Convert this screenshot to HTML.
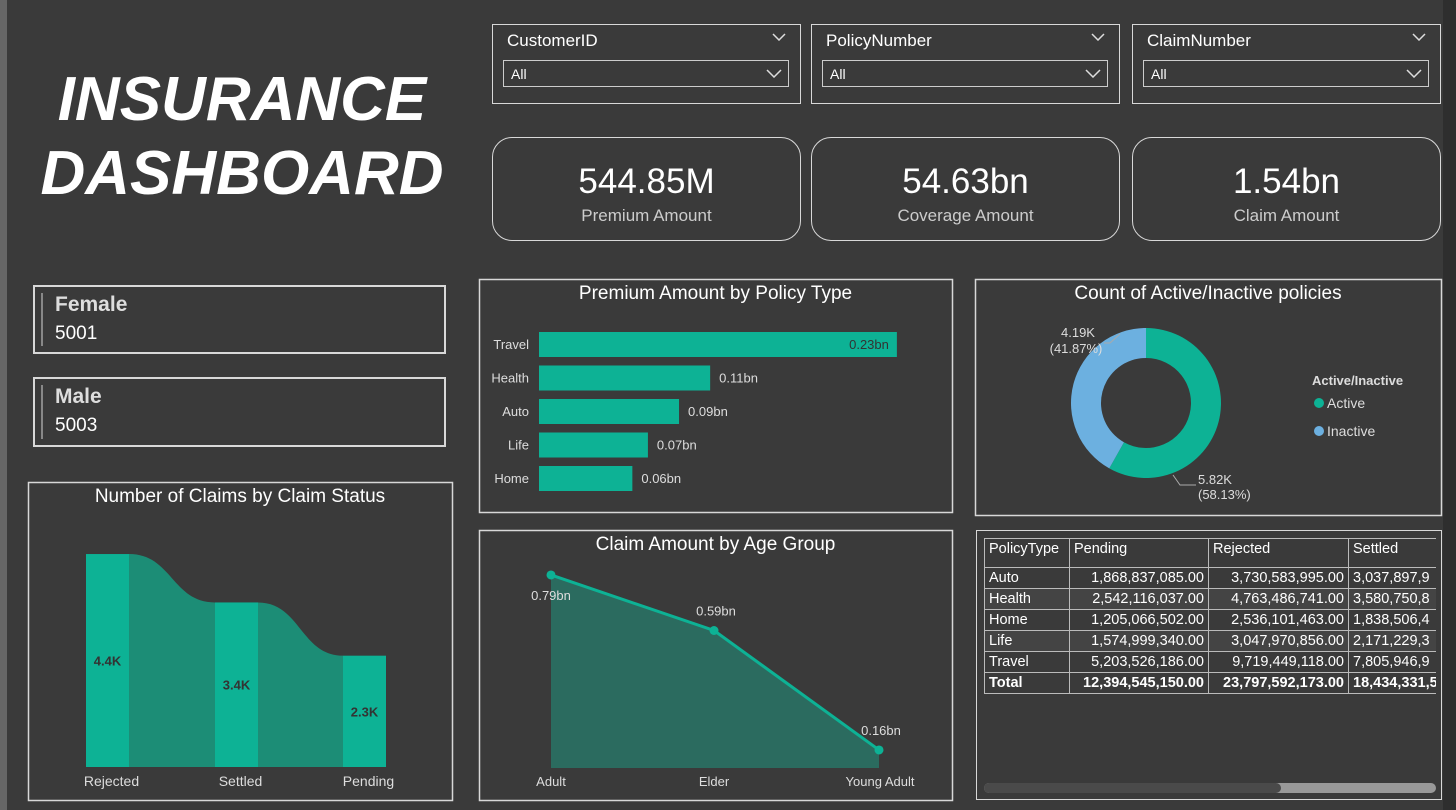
<!DOCTYPE html>
<html><head><meta charset="utf-8"><style>
body{margin:0;width:1456px;height:810px;background:#3a3a3a;font-family:"Liberation Sans",sans-serif;color:#fff;position:relative;overflow:hidden}
.a{position:absolute;box-sizing:border-box}
.box{border:1.5px solid #d8d8d8}
.slicer .lbl{position:absolute;left:14px;top:6px;font-size:17px}
.slicer .chev{position:absolute;right:14px;top:8px}
.slicer .dd{position:absolute;left:10px;right:11px;top:35px;height:27px;border:1px solid #ccc;font-size:14px;padding:5px 7px;box-sizing:border-box}
.slicer .dd svg{position:absolute;right:6px;top:8px}
.kpi{border:1.5px solid #d8d8d8;border-radius:20px;text-align:center}
.kpi .v{font-size:35px;margin-top:24px}
.kpi .l{font-size:17px;color:#ccc;margin-top:4px}
.gbox{border:2px solid #d8d8d8}
.gbox .bar{position:absolute;left:6px;top:6px;bottom:6px;width:2px;background:#888}
.gbox .t{position:absolute;left:20px;top:6px;font-size:21px;font-weight:bold;color:#ddd}
.gbox .n{position:absolute;left:20px;top:36px;font-size:19px}
table{border-collapse:collapse;font-size:14.5px;table-layout:fixed}
td{border:1px solid #bbb;padding:0 4px;height:20px;white-space:nowrap;overflow:hidden}
</style></head><body>
<div class="a" style="left:0;top:0;width:7px;height:810px;background:#666"></div>
<div class="a" style="left:1443px;top:0;width:13px;height:810px;background:#2e2e2e"></div>
<div class="a" style="left:22px;top:63px;width:440px;text-align:center;font-size:62px;font-weight:bold;font-style:italic;line-height:74px">INSURANCE<br>DASHBOARD</div>

<div class="a box slicer" style="left:492px;top:24px;width:309px;height:80px"><div class="lbl">CustomerID</div><svg class="chev" width="14" height="8"><polyline points="1,1 7,7 13,1" fill="none" stroke="#ddd" stroke-width="1.5"/></svg><div class="dd">All<svg width="16" height="9"><polyline points="1,1 8,8 15,1" fill="none" stroke="#ddd" stroke-width="1.5"/></svg></div></div>
<div class="a box slicer" style="left:811px;top:24px;width:309px;height:80px"><div class="lbl">PolicyNumber</div><svg class="chev" width="14" height="8"><polyline points="1,1 7,7 13,1" fill="none" stroke="#ddd" stroke-width="1.5"/></svg><div class="dd">All<svg width="16" height="9"><polyline points="1,1 8,8 15,1" fill="none" stroke="#ddd" stroke-width="1.5"/></svg></div></div>
<div class="a box slicer" style="left:1132px;top:24px;width:309px;height:80px"><div class="lbl">ClaimNumber</div><svg class="chev" width="14" height="8"><polyline points="1,1 7,7 13,1" fill="none" stroke="#ddd" stroke-width="1.5"/></svg><div class="dd">All<svg width="16" height="9"><polyline points="1,1 8,8 15,1" fill="none" stroke="#ddd" stroke-width="1.5"/></svg></div></div>

<div class="a kpi" style="left:492px;top:137px;width:309px;height:104px"><div class="v">544.85M</div><div class="l">Premium Amount</div></div>
<div class="a kpi" style="left:811px;top:137px;width:309px;height:104px"><div class="v">54.63bn</div><div class="l">Coverage Amount</div></div>
<div class="a kpi" style="left:1132px;top:137px;width:309px;height:104px"><div class="v">1.54bn</div><div class="l">Claim Amount</div></div>

<div class="a gbox" style="left:33px;top:285px;width:413px;height:69px"><div class="bar"></div><div class="t">Female</div><div class="n">5001</div></div>
<div class="a gbox" style="left:33px;top:377px;width:413px;height:70px"><div class="bar"></div><div class="t">Male</div><div class="n">5003</div></div>

<svg class="a" id="svg" style="left:0;top:0" width="1456" height="810"></svg>

<div class="a" style="left:976px;top:530px;width:466px;height:270px;border:1.5px solid #d8d8d8;overflow:hidden">
<table class="a" style="left:7px;top:7px;width:480px">
<colgroup><col style="width:85px"><col style="width:139px"><col style="width:140px"><col style="width:116px"></colgroup>
<tr style="height:29px"><td style="vertical-align:top;padding-top:2px">PolicyType</td><td style="vertical-align:top;padding-top:2px">Pending</td><td style="vertical-align:top;padding-top:2px">Rejected</td><td style="vertical-align:top;padding-top:2px">Settled</td></tr>
<tr><td>Auto</td><td align="right">1,868,837,085.00</td><td align="right">3,730,583,995.00</td><td>3,037,897,9</td></tr>
<tr style="background:#444"><td>Health</td><td align="right">2,542,116,037.00</td><td align="right">4,763,486,741.00</td><td>3,580,750,8</td></tr>
<tr><td>Home</td><td align="right">1,205,066,502.00</td><td align="right">2,536,101,463.00</td><td>1,838,506,4</td></tr>
<tr style="background:#444"><td>Life</td><td align="right">1,574,999,340.00</td><td align="right">3,047,970,856.00</td><td>2,171,229,3</td></tr>
<tr><td>Travel</td><td align="right">5,203,526,186.00</td><td align="right">9,719,449,118.00</td><td>7,805,946,9</td></tr>
<tr style="font-weight:bold"><td>Total</td><td align="right">12,394,545,150.00</td><td align="right">23,797,592,173.00</td><td>18,434,331,5</td></tr>
</table>
<div class="a" style="left:459px;top:0;width:10px;height:268px;background:#3a3a3a"></div>
<div class="a" style="left:7px;top:252px;width:452px;height:10px;border-radius:5px;background:#999"><div style="width:297px;height:10px;border-radius:5px;background:#4a4a4a"></div></div>
</div>

<script>
const funnelCats=["Rejected","Settled","Pending"];
const funnelVals=[4.4,3.4,2.3];
const barCats=["Travel","Health","Auto","Life","Home"];
const barVals=[0.23,0.11,0.09,0.07,0.06];
const donutCats=["Active","Inactive"];
const donutVals=[5.82,4.19];
const donutPct=[58.13,41.87];
const ageCats=["Adult","Elder","Young Adult"];
const ageVals=[0.79,0.59,0.16];

const NS="http://www.w3.org/2000/svg",svg=document.getElementById('svg');
function mk(t,a,p){const e=document.createElementNS(NS,t);for(const k in a)e.setAttribute(k,a[k]);(p||svg).appendChild(e);return e;}
function tx(x,y,s,o){const e=mk('text',Object.assign({x:x,y:y,fill:'#fff','font-size':14,'font-family':'Liberation Sans, sans-serif'},o||{}));e.textContent=s;return e;}

const panels=[[28,482,424,318,"Number of Claims by Claim Status","claims-status-panel"],[479,279,473,233,"Premium Amount by Policy Type","premium-policy-panel"],[975,279,466,236,"Count of Active/Inactive policies","active-policies-panel"],[479,530,473,270,"Claim Amount by Age Group","age-group-panel"]];
panels.forEach(p=>{const r=mk('rect',{x:p[0]+0.5,y:p[1]+0.5,width:p[2],height:p[3],fill:'none',stroke:'#d8d8d8','stroke-width':1.5});


const t=tx(p[0]+p[2]/2,p[1]+20,p[4],{'text-anchor':'middle','font-size':19});

});

const fBase=767,fK=48.4,fX=[86,215,343],fW=43;
const fy=v=>fBase-v*fK;
for(let i=0;i<funnelVals.length-1;i++){const x1=fX[i]+fW,x2=fX[i+1],y1=fy(funnelVals[i]),y2=fy(funnelVals[i+1]),m=(x1+x2)/2;
const c=mk('path',{d:`M${x1},${y1} C${m},${y1} ${m},${y2} ${x2},${y2} L${x2},${fBase} L${x1},${fBase}Z`,fill:'#1c8d76'});

}
funnelVals.forEach((v,i)=>{const r=mk('rect',{x:fX[i],y:fy(v),width:fW,height:v*fK,fill:'#0db295'});


tx(fX[i]+fW/2,fy(v)+v*fK/2+5,v+'K',{'text-anchor':'middle',fill:'#333','font-weight':'bold','font-size':13});
tx(fX[i]+fW/2+4,786,funnelCats[i],{'text-anchor':'middle',fill:'#ddd','font-size':14});});

const bX0=539,bK=1556,bY0=332,bStep=33.5,bH=25;
barVals.forEach((v,i)=>{const y=bY0+i*bStep,w=v*bK;
const r=mk('rect',{x:bX0,y:y,width:w,height:bH,fill:'#0db295'});


tx(bX0-10,y+17,barCats[i],{'text-anchor':'end','font-size':13,fill:'#ddd'});
if(i==0)tx(bX0+w-8,y+17,v.toFixed(2)+'bn',{'text-anchor':'end','font-size':13,fill:'#333'});
else tx(bX0+w+9,y+17,v.toFixed(2)+'bn',{'font-size':13,fill:'#ddd'});});

const cx=1146,cy=403,R=75,r0=45,cols=['#0db295','#6cb0e0'];
const tot=donutVals.reduce((a,b)=>a+b,0);let ang=-Math.PI/2;
donutVals.forEach((v,i)=>{const a2=ang+v/tot*2*Math.PI,lg=(a2-ang)>Math.PI?1:0;
const p=(rr,a)=>[cx+rr*Math.cos(a),cy+rr*Math.sin(a)];
const [x1,y1]=p(R,ang),[x2,y2]=p(R,a2),[x3,y3]=p(r0,a2),[x4,y4]=p(r0,ang);
const s=mk('path',{d:`M${x1},${y1}A${R},${R} 0 ${lg} 1 ${x2},${y2}L${x3},${y3}A${r0},${r0} 0 ${lg} 0 ${x4},${y4}Z`,fill:cols[i]});

ang=a2;});
mk('path',{d:'M1173,475 L1180,485 L1196,485',stroke:'#aaa',fill:'none'});
mk('path',{d:'M1120,334 L1110,343 L1104,343',stroke:'#aaa',fill:'none'});
tx(1198,484,donutVals[0].toFixed(2)+'K',{'font-size':13,fill:'#ddd'});tx(1198,499,'('+donutPct[0].toFixed(2)+'%)',{'font-size':13,fill:'#ddd'});
tx(1078,337,donutVals[1].toFixed(2)+'K',{'text-anchor':'middle','font-size':13,fill:'#ddd'});tx(1076,353,'('+donutPct[1].toFixed(2)+'%)',{'text-anchor':'middle','font-size':13,fill:'#ddd'});
tx(1312,385,'Active/Inactive',{'font-weight':'bold','font-size':13,fill:'#ddd'});
donutCats.forEach((c,i)=>{const e=mk('circle',{cx:1319,cy:403+i*28,r:5,fill:cols[i]});


tx(1327,408+i*28,c,{'font-size':14,fill:'#ddd'});});

const lX=[551,714,879],lA=794.4,lK=277.8,lBase=768;
const ly=v=>lA-v*lK;
let d='M'+lX[0]+','+lBase;ageVals.forEach((v,i)=>d+=' L'+lX[i]+','+ly(v));d+=' L'+lX[2]+','+lBase+'Z';
const ar=mk('path',{d:d,fill:'#2b6b5f'});


const ln=mk('polyline',{points:ageVals.map((v,i)=>lX[i]+','+ly(v)).join(' '),fill:'none',stroke:'#0db295','stroke-width':3});


ageVals.forEach((v,i)=>{const c=mk('circle',{cx:lX[i],cy:ly(v),r:4.5,fill:'#0db295'});


tx(lX[i]+(i==0?0:2),ly(v)+(i==0?25:-15),v.toFixed(2)+'bn',{'text-anchor':'middle','font-size':13,fill:'#ddd'});
tx(lX[i]+(i==2?1:0),786,ageCats[i],{'text-anchor':'middle','font-size':13,fill:'#ddd'});});
</script>
</body></html>
